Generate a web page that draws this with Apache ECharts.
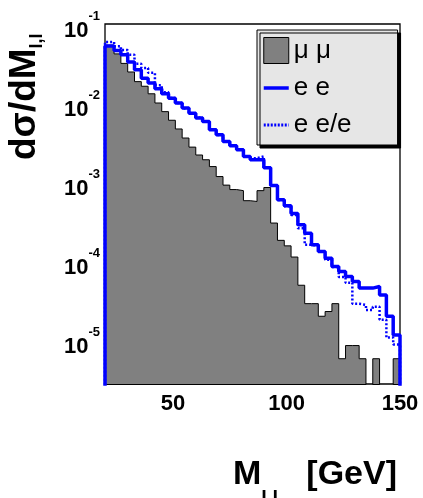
<!DOCTYPE html>
<html><head><meta charset="utf-8">
<script src="https://cdn.jsdelivr.net/npm/echarts@6/dist/echarts.min.js"></script>
<style>html,body{margin:0;padding:0;background:#fff}#c{width:423px;height:498px}</style>
</head><body><div id="c"></div>
<script>
// Bin edges in GeV (43 bins)
const binEdges = [20,24,27,30,33,36,39,42,45,48,51,54,57,60,63,66,69,72,75,78,81,84,87,90,93,96,99,102,105,108,111,114,117,120,123,126,129,132,135,138,141,144,147,150];
// mu mu (filled grey)
const muMu = [4.37e-2,3.39e-2,2.57e-2,2.00e-2,1.51e-2,1.32e-2,1.06e-2,8.1e-3,6.3e-3,4.9e-3,
  3.8e-3,2.92e-3,2.24e-3,1.78e-3,1.55e-3,1.27e-3,9.5e-4,7.4e-4,6.5e-4,6.3e-4,
  4.7e-4,4.6e-4,6.3e-4,6.9e-4,2.45e-4,1.48e-4,1.26e-4,9.1e-5,4.0e-5,2.34e-5,
  2.34e-5,1.62e-5,1.86e-5,2.34e-5,4.7e-6,6.9e-6,6.9e-6,4.7e-6,0,4.7e-6,
  0,0,4.7e-6];
// e e (solid blue)
const eeSolid = [4.27e-2,3.74e-2,3.31e-2,2.67e-2,2.14e-2,1.67e-2,1.45e-2,1.23e-2,1.06e-2,9.3e-3,
  8.1e-3,6.98e-3,6.0e-3,5.25e-3,4.73e-3,3.72e-3,3.21e-3,2.64e-3,2.33e-3,2.07e-3,
  1.71e-3,1.55e-3,1.55e-3,1.23e-3,7.3e-4,4.83e-4,4.06e-4,3.24e-4,2.34e-4,1.82e-4,
  1.30e-4,1.07e-4,8.8e-5,6.9e-5,5.97e-5,5.16e-5,4.47e-5,3.68e-5,3.68e-5,3.85e-5,
  3.02e-5,1.62e-5,9.4e-6];
// e e/e (dotted blue)
const eeDotted = [4.80e-2,4.25e-2,3.80e-2,3.30e-2,2.55e-2,2.25e-2,1.95e-2,1.36e-2,1.11e-2,9.4e-3,
  8.1e-3,6.9e-3,6.0e-3,5.3e-3,4.7e-3,3.75e-3,3.2e-3,2.65e-3,2.35e-3,2.07e-3,
  1.72e-3,1.62e-3,1.71e-3,1.23e-3,7.3e-4,4.8e-4,4.0e-4,3.1e-4,2.1e-4,1.30e-4,
  1.26e-4,1.06e-4,8.4e-5,6.8e-5,5.1e-5,4.3e-5,2.33e-5,2.26e-5,1.95e-5,2.14e-5,
  1.46e-5,8.7e-6,7.1e-6];
const xTickLabels = [50,100,150];
const legendNames = ['μ μ','e e','e e/e'];
const yMin = 2.25e-6, yMax = 0.081;
const xMin = 20, xMax = 150;

const F = 'Liberation Sans';
const FLOOR = 1e-9;
function stepData(vals){
  const pts = [[binEdges[0], FLOOR]];
  for (let i = 0; i < vals.length; i++) pts.push([binEdges[i], vals[i] > 0 ? vals[i] : FLOOR]);
  pts.push([binEdges[binEdges.length-1], FLOOR]);
  return pts;
}
const supRich = {
  a: {fontFamily:F, fontWeight:'bold', fontSize:22, color:'#000', padding:[10,0,0,0]},
  b: {fontFamily:F, fontWeight:'bold', fontSize:13, color:'#000', verticalAlign:'top'}
};
const chart = echarts.init(document.getElementById('c'), null, {renderer:'canvas'});
chart.setOption({
  animation:false,
  backgroundColor:'#fff',
  grid:{left:105, right:23, top:24, bottom:114, show:true, borderColor:'#000', borderWidth:1.3, backgroundColor:'transparent', outerBoundsMode:'none', containLabel:false},
  xAxis:{type:'value', min:xMin, max:xMax,
    axisLine:{show:true, lineStyle:{color:'#000', width:1}}, axisTick:{show:false}, splitLine:{show:false},
    axisLabel:{customValues:xTickLabels, formatter:v=>String(v), margin:9, fontFamily:F, fontWeight:'bold', fontSize:22, color:'#000'}},
  yAxis:{type:'log', logBase:10, min:yMin, max:yMax,
    axisLine:{show:false}, axisTick:{show:false}, splitLine:{show:false},
    axisLabel:{margin:5, padding:[19,0,0,0], verticalAlign:'middle', rich:supRich,
      formatter:function(v){const e=Math.log10(v); const r=Math.round(e); if(Math.abs(e-r)>1e-6) return ''; return '{a|10}{b|'+r+'}';}}},
  legend:{left:257, top:30, orient:'vertical', itemWidth:25, itemHeight:26, itemGap:11, padding:[7,46,7,5],
    backgroundColor:'#e6e6e6', borderColor:'#000', borderWidth:1, shadowColor:'#000', shadowOffsetX:3, shadowOffsetY:3, shadowBlur:0,
    selectedMode:false,
    textStyle:{fontFamily:F, fontSize:26, color:'#000', lineHeight:26},
    data:[{name:legendNames[0], icon:'rect', itemStyle:{color:'#808080', borderColor:'#000', borderWidth:1}},
          {name:legendNames[1], itemStyle:{opacity:0}, lineStyle:{width:3.5}},
          {name:legendNames[2], itemStyle:{opacity:0}, lineStyle:{width:3, type:[2,1.5]}}]},
  series:[
    {type:'line', name:legendNames[0], data:stepData(muMu), step:'end', symbol:'none', z:1, silent:true,
     lineStyle:{color:'#000', width:1}, itemStyle:{color:'#808080'}, areaStyle:{color:'#808080', opacity:1, origin:'start'}},
    {type:'line', name:legendNames[2], data:stepData(eeDotted), step:'end', symbol:'none', z:2, silent:true,
     lineStyle:{color:'#0000ff', width:2.5, type:[2,2]}, itemStyle:{color:'#0000ff'}},
    {type:'line', name:legendNames[1], data:stepData(eeSolid), step:'end', symbol:'none', z:3, silent:true,
     lineStyle:{color:'#0000ff', width:3.5}, itemStyle:{color:'#0000ff'}}
  ]
});
const yTop = chart.convertToPixel({yAxisIndex:0}, 0.1);
chart.setOption({
  graphic:[
    {type:'text', z:10, style:{x:100, y:yTop, text:'{a|10}{b|-1}', rich:supRich, align:'right', verticalAlign:'middle', padding:[19,0,0,0]}},
    {type:'text', z:10, style:{x:397, y:475, text:'{m|M}{s|l,l}{m|   [GeV]}', align:'right', verticalAlign:'middle',
      rich:{m:{fontFamily:F, fontWeight:'bold', fontSize:34, color:'#000'}, s:{fontFamily:F, fontWeight:'bold', fontSize:20, color:'#000', verticalAlign:'top', padding:[48,0,0,0]}}}},
    {type:'text', z:10, x:25, y:160, rotation:Math.PI/2, style:{x:0, y:0, text:'{m|dσ/dM}{s|l,l}', align:'left', verticalAlign:'middle',
      rich:{m:{fontFamily:F, fontWeight:'bold', fontSize:37, color:'#000'}, s:{fontFamily:F, fontWeight:'bold', fontSize:18, color:'#000', verticalAlign:'top', padding:[24,0,0,0]}}}}
  ]
});
</script></body></html>
